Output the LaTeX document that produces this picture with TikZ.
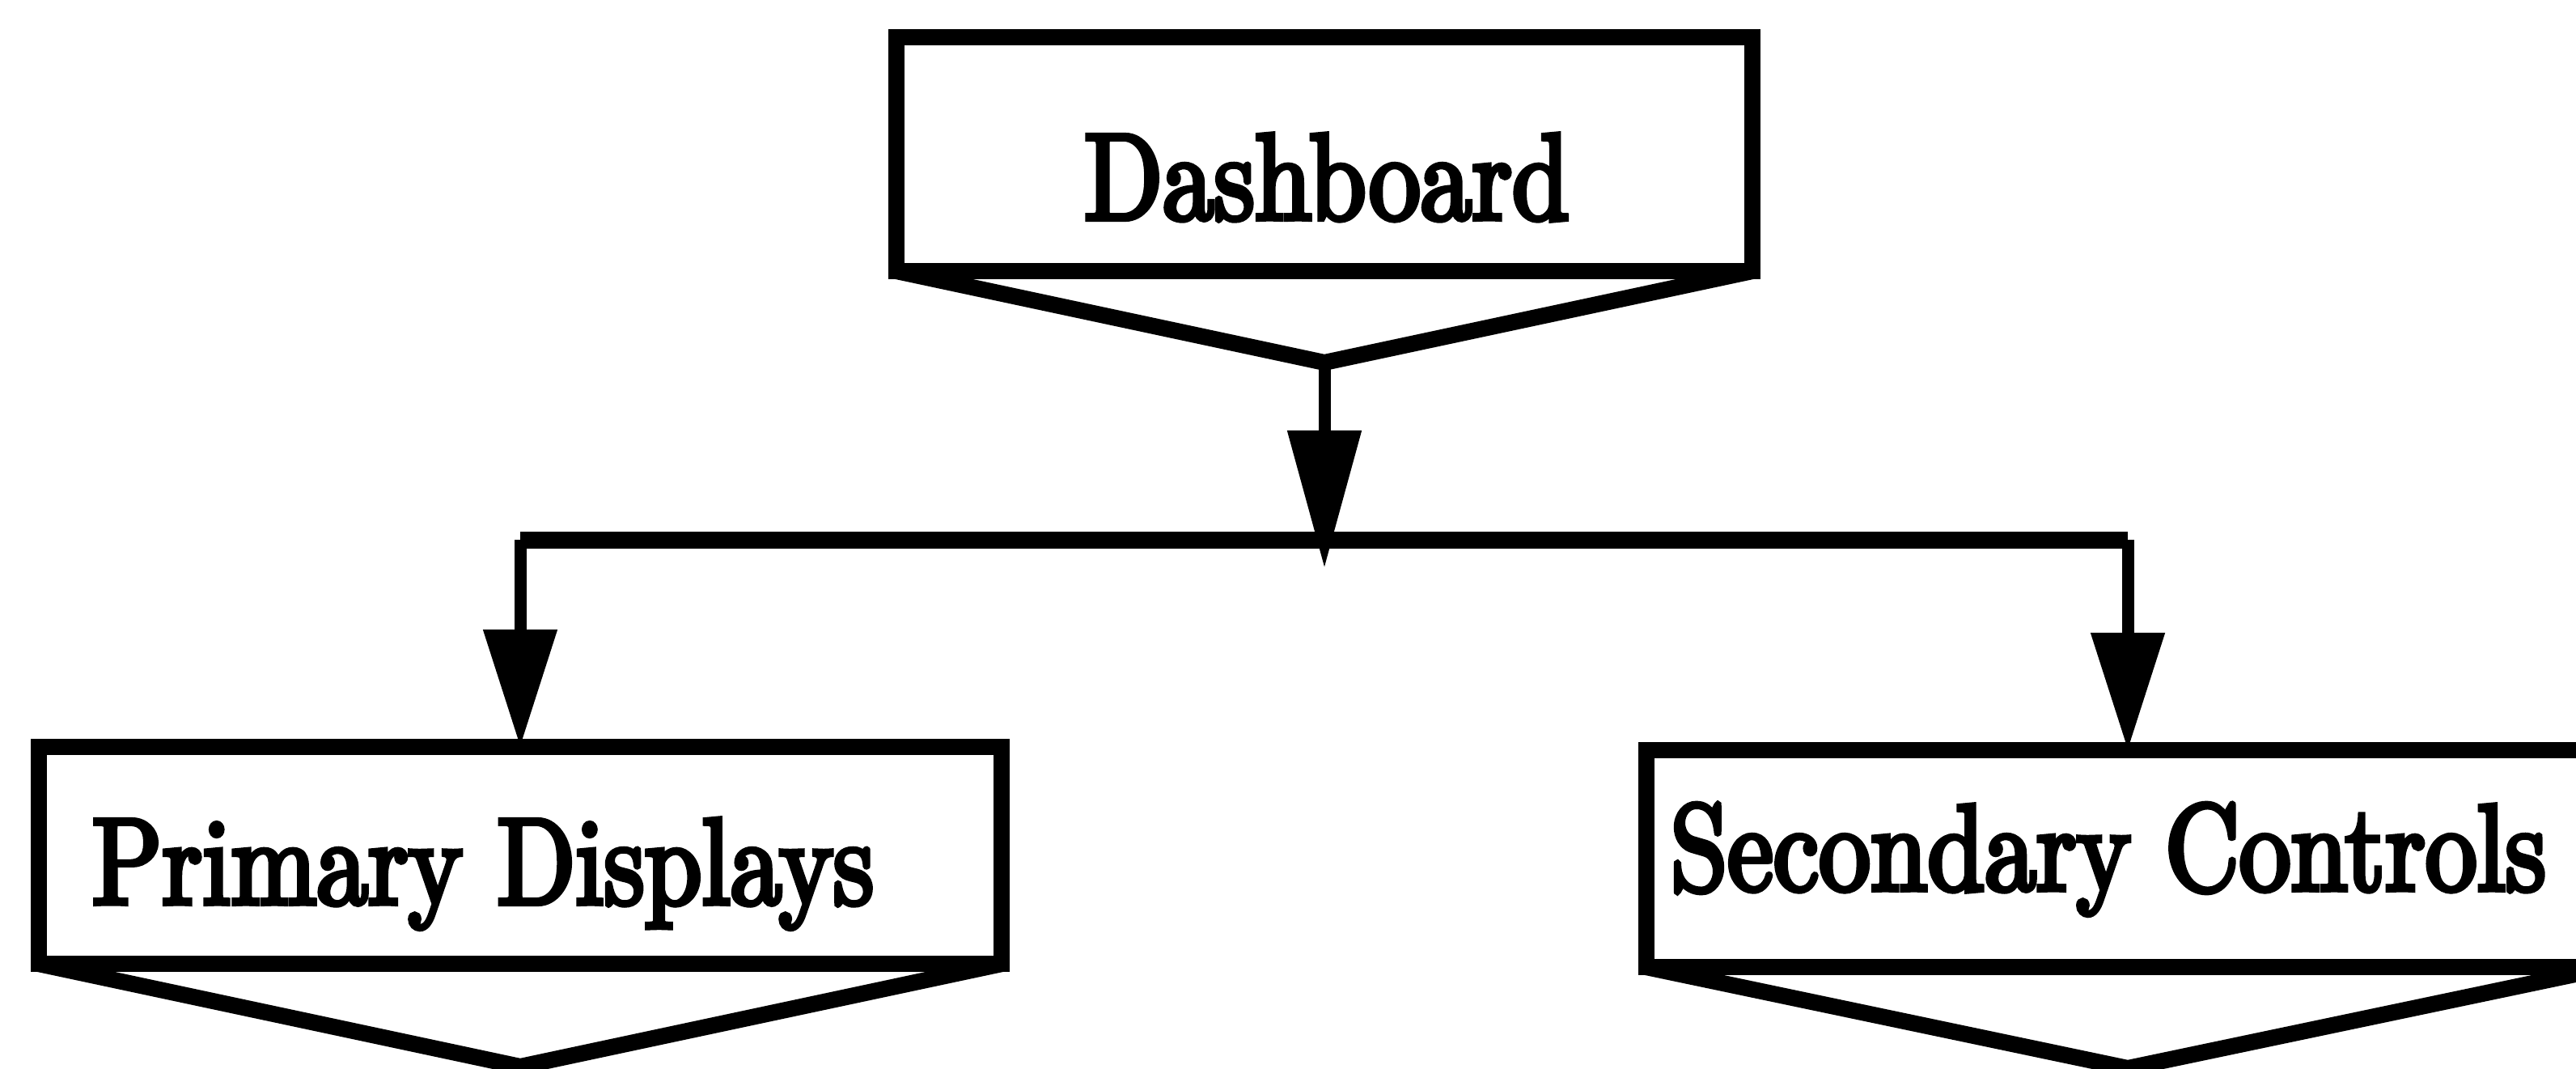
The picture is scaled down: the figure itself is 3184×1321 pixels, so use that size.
\documentclass[tikz,border=0pt]{standalone}
\usepackage{fontspec}
\usetikzlibrary{arrows.meta}
% narrow, heavy serif for the box labels
\newfontfamily\labelfont{lmroman10-regular.otf}[FakeStretch=0.835, FakeBold=4]
\begin{document}
\begin{tikzpicture}[x=0.01cm, y=-0.01cm,
  box/.style={draw, line width=0.2cm, line join=miter, minimum width=11.9cm,
    minimum height=2.68cm, inner sep=0pt, outer sep=0pt},
  tail/.style={draw, line width=0.2cm, line join=miter},
  label/.style={font=\labelfont\fontsize{43.3}{50}\selectfont, inner sep=0pt},
  bar/.style={line width=0.21cm},
  link/.style={line width=0.15cm, -{Triangle[length=1.45cm, width=0.88cm]}},
  longlink/.style={link, -{Triangle[length=1.7cm, width=0.88cm]}}]
  \useasboundingbox (0,0) rectangle (3184,1321);

  % top box with its pennant tail
  \node[box, minimum width=10.57cm, minimum height=2.89cm] (dash) at (1637,190.5) {};
  \coordinate (dashtip) at (1637,448);
  \draw[tail] (dash.south west) -- (dashtip) -- (dash.south east);
  \node[label, anchor=base] (dashtxt) at (1640,271) {Dashboard};

  % the two lower boxes
  \node[box] (prim) at (643,1057) {};
  \coordinate (primtip) at (643,1318);
  \draw[tail] (prim.south west) -- (primtip) -- (prim.south east);
  \node[label, anchor=base west] (primtxt) at (113,1117) {Primary Displays};

  \node[box] (sec) at (2630,1061) {};
  \coordinate (sectip) at (2630,1320);
  \draw[tail] (sec.south west) -- (sectip) -- (sec.south east);
  \node[label, anchor=base west] (sectxt) at (2064,1100) {Secondary Controls};

  % branching connector
  \coordinate (junc) at (1637,667);
  \coordinate (stemend) at (1637,702);
  \coordinate (barL) at (prim.north |- junc);
  \coordinate (barR) at (sec.north |- junc);
  \draw[bar] (barL) -- (barR);
  \draw[longlink] (dashtip) -- (stemend);
  \draw[link] (barL) -- (prim.north);
  \draw[link] (barR) -- (sec.north);
\end{tikzpicture}
\end{document}
